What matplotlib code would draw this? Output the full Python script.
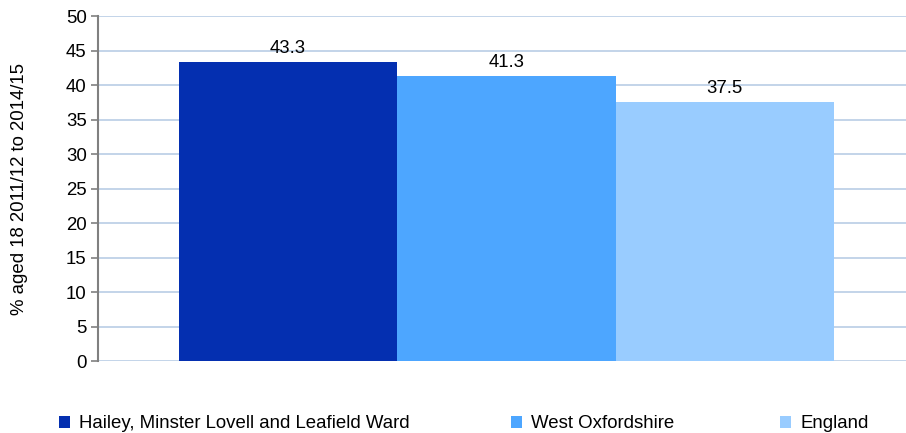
import matplotlib.pyplot as plt

plt.rcParams['font.family'] = ['Liberation Sans', 'DejaVu Sans']

# data
areas = ['Hailey, Minster Lovell and Leafield Ward', 'West Oxfordshire', 'England']
values = [43.3, 41.3, 37.5]
colors = ['#042FB0', '#4DA6FF', '#99CCFF']
yticks = [0, 5, 10, 15, 20, 25, 30, 35, 40, 45, 50]

FS = 13.4

fig = plt.figure(figsize=(9.06, 4.33), dpi=100)
ax = fig.add_axes([0.108, 0.166, 0.892, 0.797])

offsets = [-1, 0, 1]
bars = []
for off, val, col, name in zip(offsets, values, colors, areas):
    b = ax.bar(off, val, width=1.0, color=col, label=name, zorder=3)
    bars.append(b)
    ax.annotate(f'{val:.1f}', (off, val), xytext=(0, 4), textcoords='offset points',
                ha='center', va='bottom', fontsize=FS)

ax.set_xlim(-1.87, 1.83)
ax.set_ylim(0, 50)
ax.set_yticks(yticks)
ax.tick_params(axis='y', labelsize=FS, length=5, width=1.2, color='#808080', pad=3)
ax.set_xticks([])
ax.grid(axis='y', color='#B9CDE5', linewidth=1.2, zorder=0)
for s in ['top', 'right', 'bottom']:
    ax.spines[s].set_visible(False)
ax.spines['left'].set_color('#808080')
ax.spines['left'].set_linewidth(1.5)
ax.set_ylabel('% aged 18 2011/12 to 2014/15', fontsize=FS)
ax.yaxis.set_label_coords(-0.087, 0.5)

# legend entries placed like the original
legend_x = [0.065, 0.564, 0.861]
for b, name, lx in zip(bars, areas, legend_x):
    fig.legend([b], [name], loc='center left', bbox_to_anchor=(lx, 0.021),
               frameon=False, fontsize=FS, handlelength=0.6, handleheight=0.6,
               handletextpad=0.5, borderaxespad=0, borderpad=0)

fig.savefig('out.png', dpi=100)
